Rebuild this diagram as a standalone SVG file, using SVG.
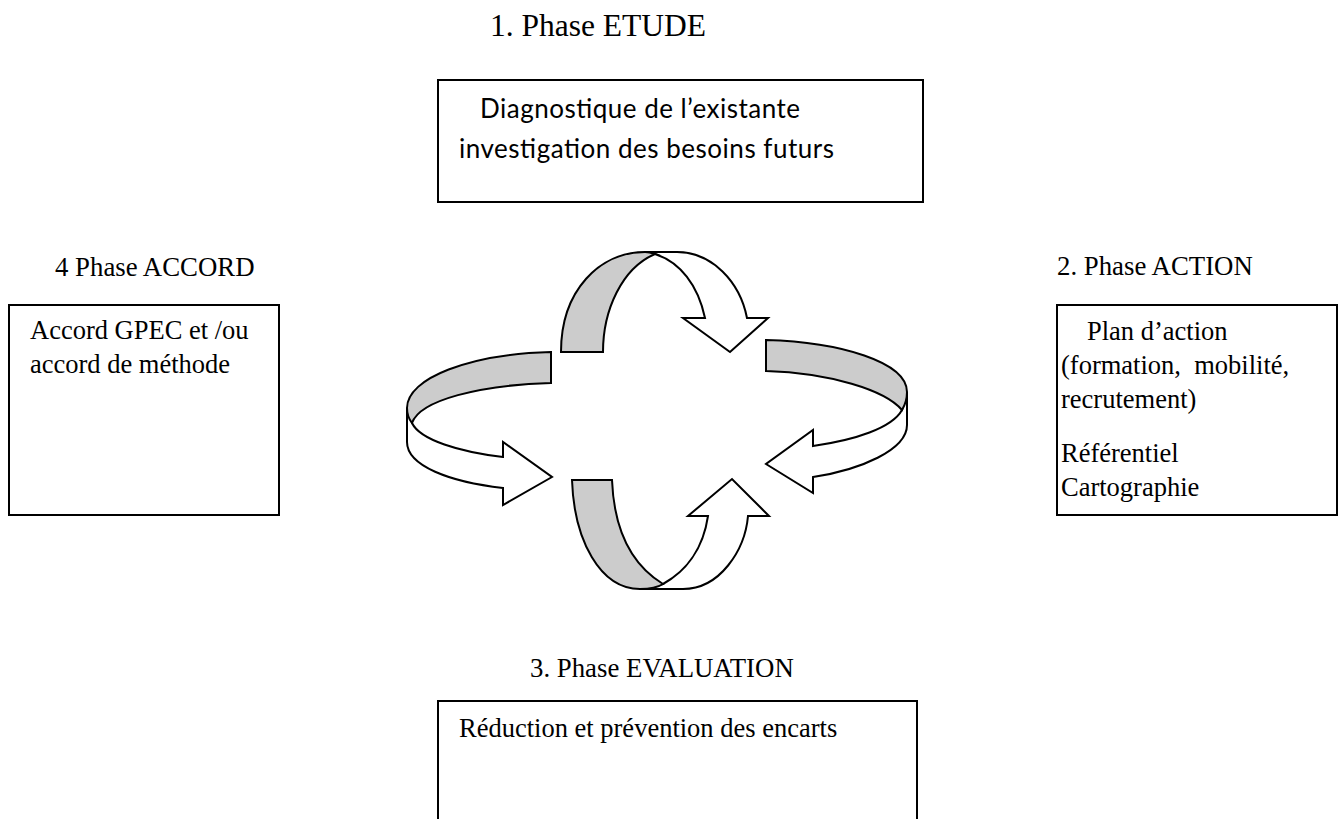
<svg xmlns="http://www.w3.org/2000/svg" width="1342" height="819" viewBox="0 0 1342 819">
  <style>
    .serif { font-family: "Liberation Serif", "Times New Roman", serif; fill: #000; }
    .title { font-size: 31.5px; }
    .lbl { font-size: 26.8px; }
    .txt { font-size: 26.5px; }
    .sans { font-family: Lato, "Open Sans", "Liberation Sans", sans-serif; font-size: 26px; fill: #000; }
    .box { fill: #fff; stroke: #000; stroke-width: 2; }
    .front { fill: #fff; stroke: #000; stroke-width: 2; stroke-linejoin: miter; }
    .back { fill: #cccccc; stroke: #000; stroke-width: 2; stroke-linejoin: miter; }
  </style>
  <rect width="1342" height="819" fill="#fff"/>

  <!-- Phase 1 -->
  <g id="phase-etude">
    <text class="serif title" x="490" y="36">1. Phase ETUDE</text>
    <rect class="box" x="438" y="80" width="485" height="122"/>
    <text class="sans" x="480" y="118" textLength="320" lengthAdjust="spacing">Diagnostique de l’existante</text>
    <text class="sans" x="459" y="158" textLength="375" lengthAdjust="spacing">investigation des besoins futurs</text>
  </g>

  <!-- Phase 4 -->
  <g id="phase-accord">
    <text class="serif lbl" x="55" y="276">4 Phase ACCORD</text>
    <rect class="box" x="9" y="305" width="270" height="210"/>
    <text class="serif txt" x="30" y="339">Accord GPEC et /ou</text>
    <text class="serif txt" x="30" y="373">accord de méthode</text>
  </g>

  <!-- Phase 2 -->
  <g id="phase-action">
    <text class="serif lbl" x="1057" y="275">2. Phase ACTION</text>
    <rect class="box" x="1057" y="305" width="280" height="210"/>
    <text class="serif txt" x="1087" y="340">Plan d’action</text>
    <text class="serif txt" x="1061" y="374" xml:space="preserve">(formation,  mobilité,</text>
    <text class="serif txt" x="1061" y="408">recrutement)</text>
    <text class="serif txt" x="1061" y="462">Référentiel</text>
    <text class="serif txt" x="1061" y="496">Cartographie</text>
  </g>

  <!-- Phase 3 -->
  <g id="phase-evaluation">
    <text class="serif lbl" x="530" y="677">3. Phase EVALUATION</text>
    <path class="box" d="M438,822 L438,701 L917,701 L917,822"/>
    <text class="serif txt" x="459" y="737">Réduction et prévention des encarts</text>
  </g>

  <!-- cycle of curved ribbon arrows -->
  <g id="connectors">
    <!-- top: curving from left to right -->
    <path class="front" d="M645,252 L677,252 C712,252 740,282 747,318 L768,318 L730,352 L683,318 L705,318 C698,285 680,262 655,254 Z"/>
    <path class="back" d="M561,352 C561,290 600,252 645,252 C648,252 652,253 655,254 C622,268 603,310 603,352 Z"/>

    <!-- right: curving back toward centre -->
    <path class="front" d="M907,392 L907,425 C907,450 860,470 813,477 L813,493 L766,464 L813,430 L813,446 C855,440 892,428 902,410 Z"/>
    <path class="back" d="M766,340 C840,342 907,362 907,392 C907,400 905,405 902,410 C885,390 830,373 766,371 Z"/>

    <!-- bottom: curving upward -->
    <path class="front" d="M640,589 L683,589 C720,589 745,550 748,516 L769,516 L732,479 L688,516 L708,516 C703,550 685,572 663,584 Z"/>
    <path class="back" d="M572,480 L612,480 C614,530 632,565 663,584 C657,588 650,589 640,589 C600,589 574,540 572,480 Z"/>

    <!-- left: curving toward centre -->
    <path class="front" d="M407,408 L407,442 C407,466 450,482 503,488 L503,505 L552,477 L503,442 L503,457 C460,452 420,440 412,423 Z"/>
    <path class="back" d="M551,352 L551,383 C480,385 420,400 412,423 C408,418 407,413 407,408 C407,378 470,354 551,352 Z"/>
  </g>
</svg>
